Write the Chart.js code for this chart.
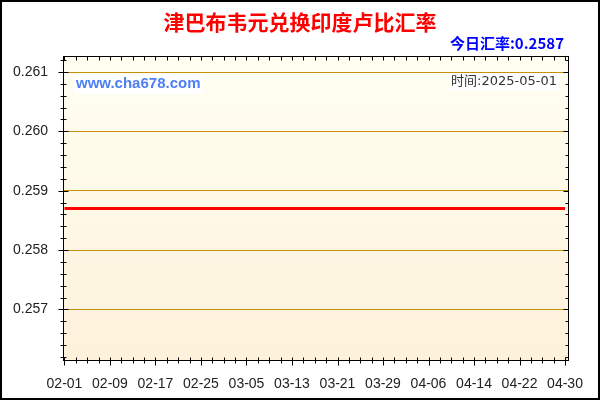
<!DOCTYPE html>
<html>
<head>
<meta charset="utf-8">
<script src="https://cdn.jsdelivr.net/npm/chart.js@4.4.1/dist/chart.umd.min.js"></script>
<style>
html, body { margin: 0; padding: 0; background: #fff; }
#wrap { width: 600px; height: 400px; }
</style>
</head>
<body>
<div id="wrap"><canvas id="rate" width="600" height="400"></canvas></div>
<script>
// daily dates, 2025-02-01 .. 2025-04-30
const dates = [
  '02-01','02-02','02-03','02-04','02-05','02-06','02-07','02-08','02-09','02-10',
  '02-11','02-12','02-13','02-14','02-15','02-16','02-17','02-18','02-19','02-20',
  '02-21','02-22','02-23','02-24','02-25','02-26','02-27','02-28',
  '03-01','03-02','03-03','03-04','03-05','03-06','03-07','03-08','03-09','03-10',
  '03-11','03-12','03-13','03-14','03-15','03-16','03-17','03-18','03-19','03-20',
  '03-21','03-22','03-23','03-24','03-25','03-26','03-27','03-28','03-29','03-30','03-31',
  '04-01','04-02','04-03','04-04','04-05','04-06','04-07','04-08','04-09','04-10',
  '04-11','04-12','04-13','04-14','04-15','04-16','04-17','04-18','04-19','04-20',
  '04-21','04-22','04-23','04-24','04-25','04-26','04-27','04-28','04-29','04-30'
];

// ZWL -> INR, flat over the period
const rates = [
  0.2587,0.2587,0.2587,0.2587,0.2587,0.2587,0.2587,0.2587,0.2587,0.2587,
  0.2587,0.2587,0.2587,0.2587,0.2587,0.2587,0.2587,0.2587,0.2587,0.2587,
  0.2587,0.2587,0.2587,0.2587,0.2587,0.2587,0.2587,0.2587,
  0.2587,0.2587,0.2587,0.2587,0.2587,0.2587,0.2587,0.2587,0.2587,0.2587,
  0.2587,0.2587,0.2587,0.2587,0.2587,0.2587,0.2587,0.2587,0.2587,0.2587,
  0.2587,0.2587,0.2587,0.2587,0.2587,0.2587,0.2587,0.2587,0.2587,0.2587,0.2587,
  0.2587,0.2587,0.2587,0.2587,0.2587,0.2587,0.2587,0.2587,0.2587,0.2587,
  0.2587,0.2587,0.2587,0.2587,0.2587,0.2587,0.2587,0.2587,0.2587,0.2587,
  0.2587,0.2587,0.2587,0.2587,0.2587,0.2587,0.2587,0.2587,0.2587,0.2587
];

const xTickLabels = ['02-01','02-09','02-17','02-25','03-05','03-13','03-21','03-29','04-06','04-14','04-22','04-30'];
const yTickLabels = ['0.257','0.258','0.259','0.260','0.261'];

const titleText = '津巴布韦元兑换印度卢比汇率';
const todayText = '今日汇率:0.2587';
const siteText = 'www.cha678.com';
const timeText = '时间:2025-05-01';

const gridColor = '#c8900a';

function yLabel(v) {
  const s = (Math.round(v * 1000) / 1000).toFixed(3);
  return Math.abs(v * 1000 - Math.round(v * 1000)) < 1e-6 && yTickLabels.includes(s) ? s : '';
}
function xLabel(v) {
  return xTickLabels.includes(dates[v]) ? dates[v] : '';
}

const chartDeco = {
  id: 'chartDeco',
  beforeDraw(chart) {
    const { ctx, chartArea: a } = chart;
    const g = ctx.createLinearGradient(0, a.top, 0, a.bottom);
    g.addColorStop(0, '#fffff2');
    g.addColorStop(1, '#fdf1da');
    ctx.save();
    ctx.fillStyle = g;
    ctx.fillRect(a.left, a.top, a.right - a.left, a.bottom - a.top);
    ctx.restore();
  },
  afterDraw(chart) {
    const { ctx, chartArea: a } = chart;
    const xs = chart.scales.x, ys = chart.scales.y;
    ctx.save();
    // plot frame
    ctx.strokeStyle = '#000';
    ctx.lineWidth = 1;
    ctx.strokeRect(a.left + 0.5, a.top + 0.5, a.right - a.left - 1, a.bottom - a.top - 1);
    ctx.beginPath();
    ys.ticks.forEach(t => {
      const y = Math.round(ys.getPixelForValue(t.value)) + 0.5;
      const big = yLabel(t.value) !== '';
      const l = a.left + 0.5;
      ctx.moveTo(l - (big ? 5 : 3), y); ctx.lineTo(l + (big ? 5 : 3), y);
      const r = a.right - 0.5;
      ctx.moveTo(r, y); ctx.lineTo(r - (big ? 5 : 3), y);
    });
    xs.ticks.forEach(t => {
      const x = Math.round(xs.getPixelForValue(t.value)) + 0.5;
      const big = xLabel(t.value) !== '';
      const b = a.bottom - 0.5;
      ctx.moveTo(x, b - 3); ctx.lineTo(x, b + (big ? 5 : 3));
      const tp = a.top + 0.5;
      ctx.moveTo(x, tp); ctx.lineTo(x, tp + 4);
    });
    ctx.stroke();

    // texts
    ctx.textBaseline = 'middle';
    ctx.textAlign = 'center';
    ctx.fillStyle = '#ff0000';
    ctx.font = 'bold 21px "Noto Sans CJK SC", sans-serif';
    ctx.fillText(titleText, 300, 22);

    ctx.textAlign = 'right';
    ctx.fillStyle = '#0000ff';
    ctx.font = 'bold 15px "Noto Sans CJK SC", sans-serif';
    ctx.fillText(todayText, 564, 43);

    ctx.textAlign = 'left';
    ctx.font = 'bold 15px Arial, "Liberation Sans", sans-serif';
    ctx.fillStyle = '#ffffff';
    ctx.fillRect(74, 74, ctx.measureText(siteText).width + 4, 20);
    ctx.fillStyle = '#4d7ef2';
    ctx.fillText(siteText, 76, 84);

    ctx.textAlign = 'right';
    ctx.font = '13px "DejaVu Sans", "Noto Sans CJK SC", sans-serif';
    const tw = ctx.measureText(timeText).width;
    ctx.fillStyle = '#ffffff';
    ctx.fillRect(557 - tw - 2, 73, tw + 4, 18);
    ctx.fillStyle = '#333333';
    ctx.fillText(timeText, 557, 82);

    // outer border
    ctx.strokeStyle = '#000';
    ctx.lineWidth = 2;
    ctx.strokeRect(1, 1, chart.width - 2, chart.height - 2);
    ctx.restore();
  }
};

new Chart(document.getElementById('rate'), {
  type: 'line',
  data: {
    datasets: [{
      label: '汇率',
      data: rates.map((v, i) => ({ x: i, y: v })),
      borderColor: '#ff0000',
      borderWidth: 3,
      pointRadius: 0,
      tension: 0,
      fill: false
    }]
  },
  options: {
    responsive: false,
    animation: false,
    devicePixelRatio: 1,
    layout: { padding: { top: 56, right: 31, left: 0, bottom: 0 } },
    plugins: { legend: { display: false }, tooltip: { enabled: false } },
    scales: {
      x: {
        type: 'linear',
        min: -0.26,
        max: 88.7,
        afterBuildTicks: s => { s.ticks = dates.map((d, i) => ({ value: i })).filter(t => t.value % 2 === 0); },
        afterFit: s => { s.height = 39; },
        grid: { display: false },
        border: { display: false },
        ticks: {
          autoSkip: false,
          maxRotation: 0,
          padding: 7,
          color: '#222',
          font: { family: 'Arial, "Liberation Sans", sans-serif', size: 14 },
          callback: v => xLabel(v)
        }
      },
      y: {
        min: 0.25613,
        max: 0.26127,
        afterBuildTicks: s => {
          const t = [];
          for (let k = 25620; k <= 26120; k += 20) t.push({ value: k / 100000 });
          s.ticks = t;
        },
        afterFit: s => { s.width = 63; },
        grid: {
          drawTicks: false,
          color: c => yLabel(c.tick.value) ? gridColor : 'rgba(0,0,0,0)',
          lineWidth: 1
        },
        border: { display: false },
        ticks: {
          autoSkip: false,
          padding: 15,
          color: '#222',
          font: { family: 'Arial, "Liberation Sans", sans-serif', size: 14 },
          callback: v => yLabel(v)
        }
      }
    }
  },
  plugins: [chartDeco]
});
</script>
</body>
</html>
